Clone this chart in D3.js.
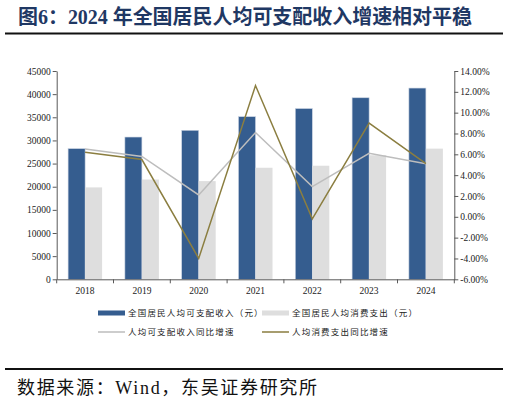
<!DOCTYPE html>
<html>
<head>
<meta charset="utf-8">
<script src="https://cdn.jsdelivr.net/npm/d3@7"></script>
<style>
  body { margin: 0; background: #fff; }
  svg { display: block; }
</style>
</head>
<body>
<div id="chart"></div>
<script>
/** data **/
var years = ["2018", "2019", "2020", "2021", "2022", "2023", "2024"];
var incomeValues = [28228, 30733, 32189, 35128, 36883, 39218, 41314];
var spendValues = [19853, 21559, 21210, 24100, 24538, 26796, 28227];
var incomeGrowth = [6.5, 5.8, 2.1, 8.1, 2.9, 6.1, 5.1];
var spendGrowth = [6.2, 5.5, -4.0, 12.6, -0.2, 9.0, 5.1];
var leftTicks = [0, 5000, 10000, 15000, 20000, 25000, 30000, 35000, 40000, 45000];
var rightTicks = [-6, -4, -2, 0, 2, 4, 6, 8, 10, 12, 14];
var legendNames = ["全国居民人均可支配收入（元）", "全国居民人均消费支出（元）",
                   "人均可支配收入同比增速", "人均消费支出同比增速"];

var width = 509, height = 402;
var plot = {left: 56.7, right: 454.3, top: 71, bottom: 279.3};

var serif = "'Liberation Serif', 'Times New Roman', serif";
var cjk = "'Noto Sans CJK SC', sans-serif";

var svg = d3.select("#chart").append("svg")
    .attr("width", width)
    .attr("height", height);

/** title **/
svg.append("text")
    .attr("x", 18)
    .attr("y", 24)
    .attr("textLength", 454)
    .attr("lengthAdjust", "spacing")
    .style("font-family", "'Liberation Serif', 'Noto Sans CJK SC', serif")
    .style("font-weight", "bold")
    .style("font-size", "20px")
    .style("fill", "#1f3864")
    .text("图6：2024 年全国居民人均可支配收入增速相对平稳");

svg.append("line")
    .attr("x1", 5).attr("x2", 503)
    .attr("y1", 33.5).attr("y2", 33.5)
    .style("stroke", "#111")
    .style("stroke-width", 2);

/** scales **/
var x = d3.scaleBand()
    .domain(years)
    .range([plot.left, plot.right]);

var yLeft = d3.scaleLinear()
    .domain([0, 45000])
    .range([plot.bottom, plot.top]);

var yRight = d3.scaleLinear()
    .domain([-6, 14])
    .range([plot.bottom, plot.top]);

var barW = 17;

/** bars **/
svg.selectAll(".income")
    .data(incomeValues)
    .enter().append("rect")
    .attr("class", "income")
    .attr("x", function(d, i) { return x(years[i]) + x.bandwidth() / 2 - barW; })
    .attr("y", function(d) { return yLeft(d); })
    .attr("width", barW)
    .attr("height", function(d) { return plot.bottom - yLeft(d); })
    .style("fill", "#355d8f")
    .style("stroke", "#c9d3e2")
    .style("stroke-width", 0.6);

svg.selectAll(".spend")
    .data(spendValues)
    .enter().append("rect")
    .attr("class", "spend")
    .attr("x", function(d, i) { return x(years[i]) + x.bandwidth() / 2; })
    .attr("y", function(d) { return yLeft(d); })
    .attr("width", barW)
    .attr("height", function(d) { return plot.bottom - yLeft(d); })
    .style("fill", "#dedede");

/** lines **/
var line = d3.line()
    .x(function(d, i) { return x(years[i]) + x.bandwidth() / 2; })
    .y(function(d) { return yRight(d); });

svg.append("path")
    .datum(incomeGrowth)
    .attr("d", line)
    .style("fill", "none")
    .style("stroke", "#bdbdbd")
    .style("stroke-width", 1.5);

svg.append("path")
    .datum(spendGrowth)
    .attr("d", line)
    .style("fill", "none")
    .style("stroke", "#8b7e40")
    .style("stroke-width", 1.5);

/** axes **/
var leftAxis = svg.append("g")
    .attr("transform", "translate(" + plot.left + ",0)")
    .call(d3.axisLeft(yLeft).tickValues(leftTicks).tickSize(4).tickSizeOuter(0)
        .tickFormat(d3.format("d")));

var rightAxis = svg.append("g")
    .attr("transform", "translate(" + plot.right + ",0)")
    .call(d3.axisRight(yRight).tickValues(rightTicks).tickSize(4).tickSizeOuter(0)
        .tickFormat(function(d) { return d.toFixed(2) + "%"; }));

var bottomAxis = svg.append("g")
    .attr("transform", "translate(0," + plot.bottom + ")")
    .call(d3.axisBottom(x).tickSize(0));

// tick marks between categories on the x axis
svg.selectAll(".xtick")
    .data(d3.range(years.length + 1))
    .enter().append("line")
    .attr("class", "xtick")
    .attr("x1", function(d) { return plot.left + d * x.step(); })
    .attr("x2", function(d) { return plot.left + d * x.step(); })
    .attr("y1", plot.bottom)
    .attr("y2", plot.bottom + 4)
    .style("stroke", "#595959");

[leftAxis, rightAxis, bottomAxis].forEach(function(g) {
    g.selectAll("path.domain").style("stroke", "#595959");
    g.selectAll(".tick line").style("stroke", "#595959");
    g.selectAll("text")
        .style("font-family", serif)
        .style("font-size", "9.5px")
        .style("fill", "#222");
});
leftAxis.selectAll("text").attr("x", -6);
rightAxis.selectAll("text").attr("x", 6);
bottomAxis.selectAll("text").attr("y", 8);

/** legend **/
var legendPos = [
    {x: 98, y: 313, type: "bar", color: "#355d8f"},
    {x: 262, y: 313, type: "bar", color: "#dedede"},
    {x: 98, y: 332, type: "line", color: "#bdbdbd"},
    {x: 262, y: 332, type: "line", color: "#8b7e40"}
];

var legend = svg.selectAll(".legend")
    .data(legendNames)
    .enter().append("g")
    .attr("class", "legend")
    .attr("transform", function(d, i) {
        return "translate(" + legendPos[i].x + "," + legendPos[i].y + ")";
    });

legend.append("rect")
    .attr("x", 0)
    .attr("y", function(d, i) { return legendPos[i].type == "bar" ? -2.5 : -0.75; })
    .attr("width", 27)
    .attr("height", function(d, i) { return legendPos[i].type == "bar" ? 5 : 1.5; })
    .style("fill", function(d, i) { return legendPos[i].color; });

legend.append("text")
    .attr("x", 30)
    .attr("y", 3)
    .style("font-family", cjk)
    .style("font-size", "8.5px")
    .style("letter-spacing", "1.2px")
    .style("fill", "#222")
    .text(function(d) { return d; });

/** source **/
svg.append("line")
    .attr("x1", 5).attr("x2", 503)
    .attr("y1", 369).attr("y2", 369)
    .style("stroke", "#111")
    .style("stroke-width", 2);

svg.append("text")
    .attr("x", 17)
    .attr("y", 394)
    .attr("textLength", 300)
    .attr("lengthAdjust", "spacing")
    .style("font-family", "'Liberation Serif', 'Noto Sans CJK SC', serif")
    .style("font-size", "18px")
    .style("fill", "#111")
    .text("数据来源：Wind，东吴证券研究所");
</script>
</body>
</html>
